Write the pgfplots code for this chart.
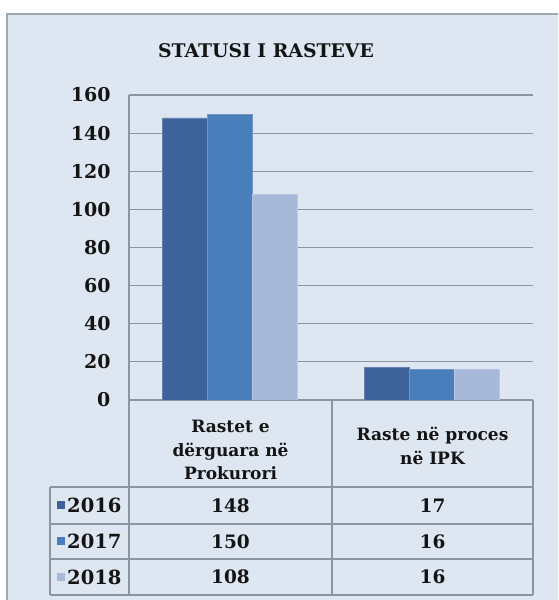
\documentclass[border=0pt]{standalone}
\usepackage{pgfplots}
\pgfplotsset{compat=1.18}
\usepackage{pgfplotstable}
\usepackage{fontspec}
\setmainfont{DejaVu Serif}
\definecolor{cA}{RGB}{61,99,153}
\definecolor{cB}{RGB}{74,126,187}
\definecolor{cC}{RGB}{167,185,216}
\definecolor{bgc}{RGB}{221,230,241}
\definecolor{gridc}{RGB}{140,150,160}
\definecolor{bordc}{RGB}{160,168,178}
\pgfplotstableread{
x y16 y17 y18
0 148 150 108
1 17 16 16
}\datatable
\begin{document}
\begin{tikzpicture}[x=1pt,y=1pt]
\path[use as bounding box] (0,0) rectangle (558,600);
\fill[white] (0,0) rectangle (558,600);
\fill[bgc] (7,0) rectangle (558,586);
\draw[bordc, line width=2pt] (7,0) -- (7,586) -- (558,586);
\node[font=\bfseries\fontsize{18.8}{20}\selectfont, text=black!92] at (266,549) {STATUSI I RASTEVE};
\begin{axis}[
  at={(129pt,200pt)}, anchor=south west,
  scale only axis, width=404pt, height=305pt,
  xmin=-0.5, xmax=1.5, ymin=0, ymax=160,
  ytick={0,20,...,160}, xtick=\empty,
  ymajorgrids, grid style={gridc, line width=1.2pt},
  axis lines*=left, axis line style={gridc, line width=1.2pt, -},
  ytick style={draw=none},
  /pgf/number format/assume math mode=true,
  yticklabel style={font=\bfseries\fontsize{19}{20}\selectfont, text=black!92, anchor=east, xshift=-15pt},
  ybar=0pt, bar width=45pt,
]
\addplot[fill=cA, draw=cA!80!white] table[x=x,y=y16]{\datatable};
\addplot[fill=cB, draw=cB!80!white] table[x=x,y=y17]{\datatable};
\addplot[fill=cC, draw=cC!80!white] table[x=x,y=y18]{\datatable};
\end{axis}
% data table
\begin{scope}[gridc, line width=1.2pt]
\draw (129,200) -- (129,5);
\draw (332,200) -- (332,5);
\draw (533,200) -- (533,5);
\draw (50,113) -- (533,113);
\draw (50,76) -- (533,76);
\draw (50,41) -- (533,41);
\draw (50,5) -- (533,5);
\draw (50,113) -- (50,5);
\end{scope}
\begin{scope}[every node/.style={font=\bfseries\fontsize{17}{23.5}\selectfont, text=black!92, align=center}]
\node at (230.5,150) {Rastet e\\dërguara në\\Prokurori};
\node at (432.5,154) {Raste në proces\\në IPK};
\end{scope}
\begin{scope}[every node/.style={font=\bfseries\fontsize{18.5}{20}\selectfont, text=black!92}]
\node at (230.5,94.5) {148};
\node at (432.5,94.5) {17};
\node at (230.5,58.5) {150};
\node at (432.5,58.5) {16};
\node at (230.5,23) {108};
\node at (432.5,23) {16};
\end{scope}
\begin{scope}[every node/.style={font=\bfseries\fontsize{19.5}{20}\selectfont, text=black!92, anchor=west, inner sep=1pt}]
\node at (66,94.5) {2016};
\node at (66,58.5) {2017};
\node at (66,23) {2018};
\end{scope}
\fill[cA] (57,90.5) rectangle (65,98.5);
\fill[cB] (57,54.5) rectangle (65,62.5);
\fill[cC] (57,19) rectangle (65,27);
\end{tikzpicture}
\end{document}
